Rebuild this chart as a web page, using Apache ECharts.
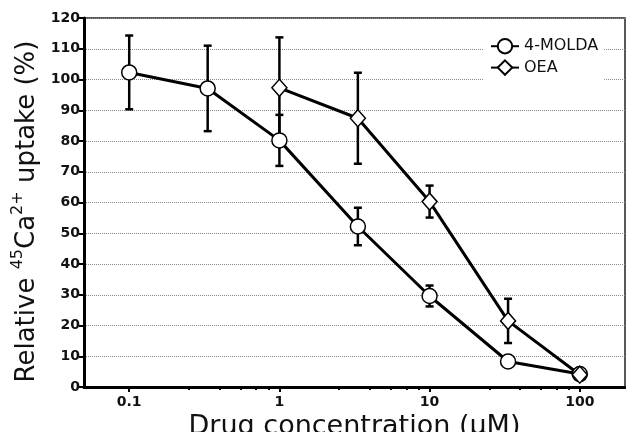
<!DOCTYPE html>
<html>
<head>
<meta charset="utf-8">
<script src="https://cdn.jsdelivr.net/npm/echarts@6/dist/echarts.min.js"></script>
<style>html,body{margin:0;padding:0;background:#fff;}#c{width:626px;height:432px;}</style>
</head>
<body>
<div id="c"></div>
<script>
// Data
var moldaConc = [0.1, 0.333, 1, 3.33, 10, 33.3, 100];
var moldaVal  = [102.3, 97.1, 80.2, 52.2, 29.6, 8.3, 4.2];
var moldaErr  = [12.0, 13.9, 8.3, 6.1, 3.4, 0, 0];
var oeaConc = [1, 3.33, 10, 33.3, 100];
var oeaVal  = [97.3, 87.4, 60.3, 21.5, 4.0];
var oeaErr  = [16.4, 14.8, 5.2, 7.2, 0];
var xMajorTicks = [0.1, 1, 10, 100];
var xMinorTicks = [0.25, 0.4, 0.55, 0.7, 0.85, 2.5, 4, 5.5, 7, 8.5, 25, 40, 55, 70, 85];
var yTicksInterval = 10;

var FONT = 'DejaVu Sans';

function pts(xs, ys) { return xs.map(function (x, i) { return [x, ys[i]]; }); }
function errs(xs, ys, es) {
  var out = [];
  xs.forEach(function (x, i) { if (es[i] > 0) out.push([x, ys[i] - es[i], ys[i] + es[i]]); });
  return out;
}
function errRender(params, api) {
  var x = api.value(0), lo = api.value(1), hi = api.value(2);
  var p1 = api.coord([x, lo]), p2 = api.coord([x, hi]);
  var w = 4;
  var st = { stroke: '#000', lineWidth: 2.5 };
  return {
    type: 'group',
    children: [
      { type: 'line', shape: { x1: p1[0], y1: p1[1], x2: p2[0], y2: p2[1] }, style: st },
      { type: 'line', shape: { x1: p1[0] - w, y1: p1[1], x2: p1[0] + w, y2: p1[1] }, style: st },
      { type: 'line', shape: { x1: p2[0] - w, y1: p2[1], x2: p2[0] + w, y2: p2[1] }, style: st }
    ]
  };
}

var chart = echarts.init(document.getElementById('c'), null, { renderer: 'canvas' });
chart.setOption({
  animation: false,
  backgroundColor: '#fff',
  textStyle: { fontFamily: FONT },
  grid: { left: 84, right: 1, top: 18, bottom: 45, containLabel: false, outerBoundsMode: 'none',
    show: true, borderColor: '#222', borderWidth: 1.5, backgroundColor: 'transparent' },
  legend: {
    left: 484, top: 34, orient: 'vertical', backgroundColor: '#fff',
    padding: [4, 6, 6, 6], itemGap: 5, itemWidth: 28, itemHeight: 18,
    textStyle: { fontFamily: FONT, fontSize: 16, color: '#111' },
    data: ['4-MOLDA', 'OEA']
  },
  xAxis: [{
    type: 'log', logBase: 10, min: 0.05, max: 200,
    name: 'Drug concentration (\u03bcM)', nameLocation: 'middle', nameGap: 22,
    nameTextStyle: { fontFamily: FONT, fontSize: 27, color: '#111' },
    axisLine: { lineStyle: { color: '#000', width: 3 } },
    axisTick: { show: true, length: 5, lineStyle: { color: '#000', width: 2 }, customValues: xMajorTicks },
    axisLabel: { customValues: xMajorTicks, fontFamily: FONT, fontWeight: 'bold', fontSize: 14, color: '#111', margin: 8,
      formatter: function (v) { return String(+v.toPrecision(6)); } },
    splitLine: { show: false }, minorTick: { show: false }
  }, {
    type: 'log', logBase: 10, min: 0.05, max: 200, position: 'bottom', gridIndex: 0,
    axisLine: { show: false },
    axisTick: { show: true, length: 3, lineStyle: { color: '#000', width: 2 }, customValues: xMinorTicks },
    axisLabel: { show: false },
    splitLine: { show: false }
  }],
  yAxis: {
    type: 'value', min: 0, max: 120, interval: yTicksInterval,
    name: '{m|Relative }{s|45}{m|Ca}{s|2+}{m| uptake (%)}',
    nameLocation: 'middle', nameGap: 39, nameRotate: 90,
    nameTextStyle: {
      padding: [0, 18, 0, 0],
      rich: {
        m: { fontFamily: FONT, fontSize: 26, color: '#111', lineHeight: 30, verticalAlign: 'bottom' },
        s: { fontFamily: FONT, fontSize: 16, color: '#111', lineHeight: 30, verticalAlign: 'top' }
      }
    },
    axisLine: { show: true, lineStyle: { color: '#000', width: 3 } },
    axisTick: { show: true, length: 5, lineStyle: { color: '#000', width: 2 } },
    axisLabel: { fontFamily: FONT, fontWeight: 'bold', fontSize: 14, color: '#111', margin: 4 },
    splitLine: { show: true, lineStyle: { type: 'dotted', color: '#888', width: 1 } }
  },
  series: [
    { type: 'custom', name: 'errMolda', renderItem: errRender, data: errs(moldaConc, moldaVal, moldaErr),
      encode: { x: 0, y: [1, 2] }, z: 1, silent: true },
    { type: 'custom', name: 'errOea', renderItem: errRender, data: errs(oeaConc, oeaVal, oeaErr),
      encode: { x: 0, y: [1, 2] }, z: 1, silent: true },
    { type: 'line', name: '4-MOLDA', data: pts(moldaConc, moldaVal), symbol: 'circle', symbolSize: 15,
      lineStyle: { color: '#000', width: 3 }, itemStyle: { color: '#fff', borderColor: '#000', borderWidth: 1.5 }, z: 3 },
    { type: 'line', name: 'OEA', data: pts(oeaConc, oeaVal), symbol: 'diamond', symbolSize: [15, 17],
      lineStyle: { color: '#000', width: 3 }, itemStyle: { color: '#fff', borderColor: '#000', borderWidth: 1.5 }, z: 3 }
  ]
});
</script>
</body>
</html>
